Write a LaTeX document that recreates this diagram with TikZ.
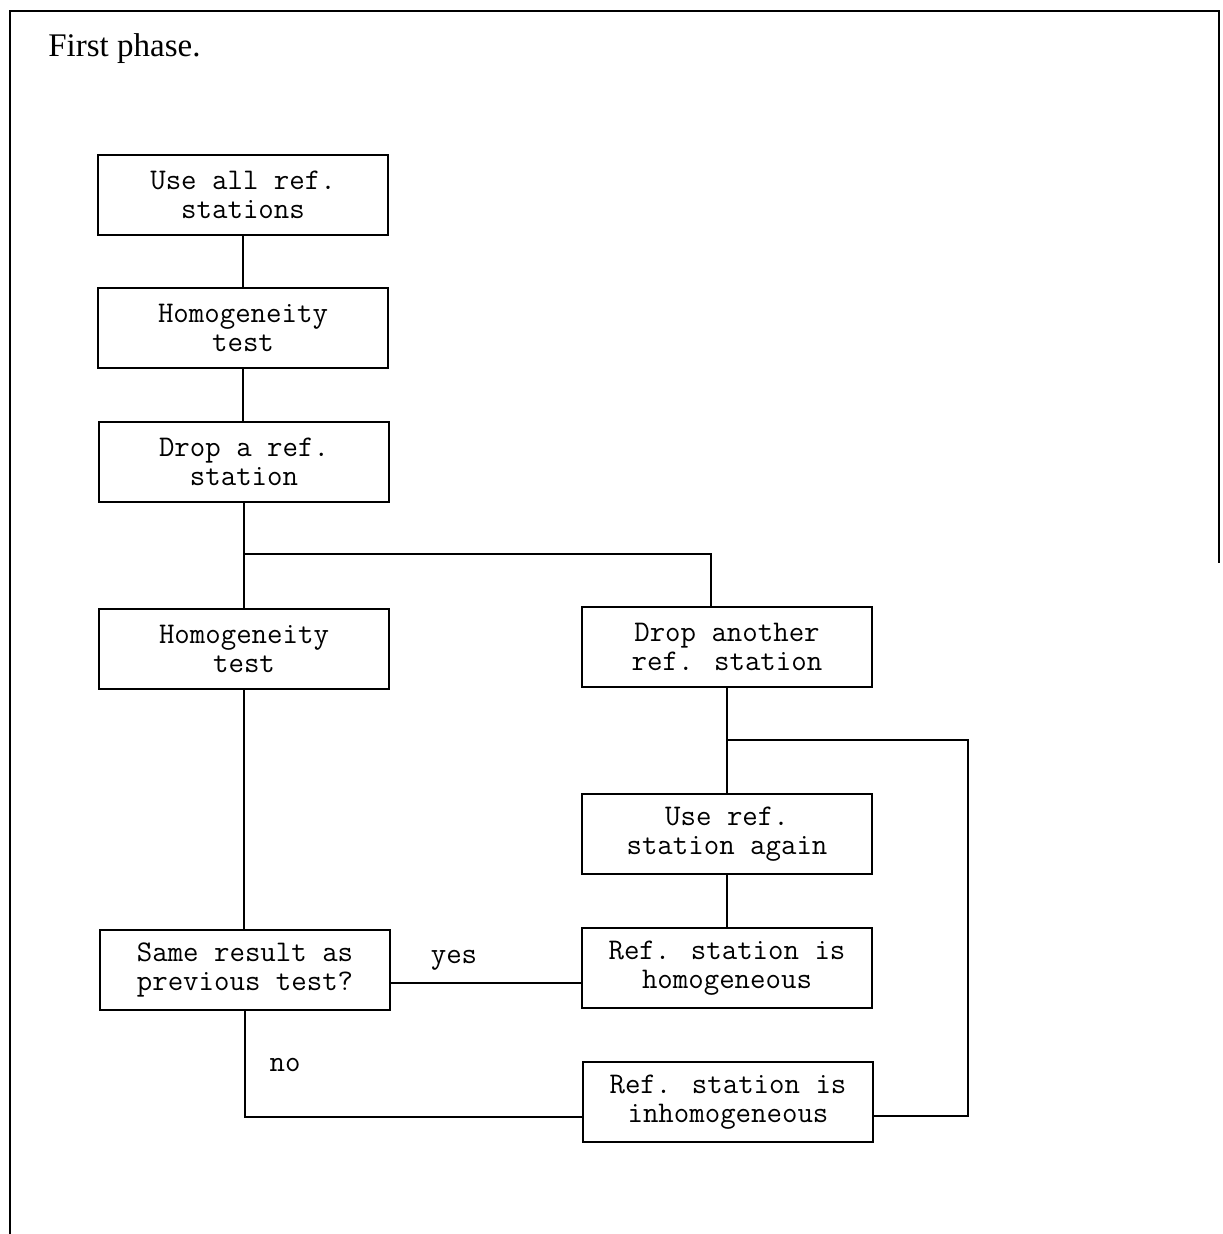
\documentclass[tikz,border=0pt]{standalone}
\usepackage{fontspec}
\setmainfont{Liberation Serif}
\begin{document}
\begin{tikzpicture}[x=0.5pt,y=-0.5pt,
  box/.style={draw, line width=1.1pt, minimum width=145pt, minimum height=40pt,
    inner sep=0pt, align=center, font=\ttfamily\fontsize{15}{14.5}\selectfont},
  conn/.style={line width=1.1pt},
  lbl/.style={inner sep=0pt, anchor=base, font=\ttfamily\fontsize{15}{14.5}\selectfont},
  frame/.style={line width=1.4pt}]
\useasboundingbox (0,0) rectangle (1222,1234);
\draw[frame] (10,1234) -- (10,11) -- (1219,11) -- (1219,563);
\node[anchor=base west, inner sep=0pt, font=\fontsize{16.5}{18}\selectfont] (title) at (48,57) {First phase.};

\node[box] (b1) at (243,195) {Use all ref.\\stations};
\node[box] (b2) at (243,328) {Homogeneity\\test};
\node[box] (b3) at (244,462) {Drop a ref.\\station};
\node[box] (b4) at (244,649) {Homogeneity\\test};
\node[box] (b5) at (727,647) {Drop another\\ref. station};
\node[box] (b6) at (727,834) {Use ref.\\station again};
\node[box] (b7) at (727,968) {Ref. station is\\homogeneous};
\node[box] (b8) at (245,970) {Same result as\\previous test?};
\node[box] (b9) at (728,1102) {Ref. station is\\inhomogeneous};

\coordinate (j1) at (244,554);
\coordinate (j2) at (727,740);
\coordinate (r2) at (968,740);

\draw[conn] (b1) -- (b2);
\draw[conn] (b2) -- (b2 |- b3.north);
\draw[conn] (b3) -- (b4);
\draw[conn] (j1) -| ([xshift=-8pt]b5.north);
\draw[conn] (b4) -- (b8.north -| b4.south);
\draw[conn] (b5) -- (b6);
\draw[conn] (b6) -- (b7);
\draw[conn] (j2) -- (r2) |- ([yshift=-7pt]b9.east);
\draw[conn] ([yshift=-6.5pt]b8.east) -- ([yshift=-6.5pt]b8.east -| b7.west);
\draw[conn] (b8.south) |- ([yshift=-7.5pt]b9.west);

\node[lbl] (yes) at (454,963) {yes};
\node[lbl] (no) at (285,1071) {no};
\end{tikzpicture}
\end{document}
